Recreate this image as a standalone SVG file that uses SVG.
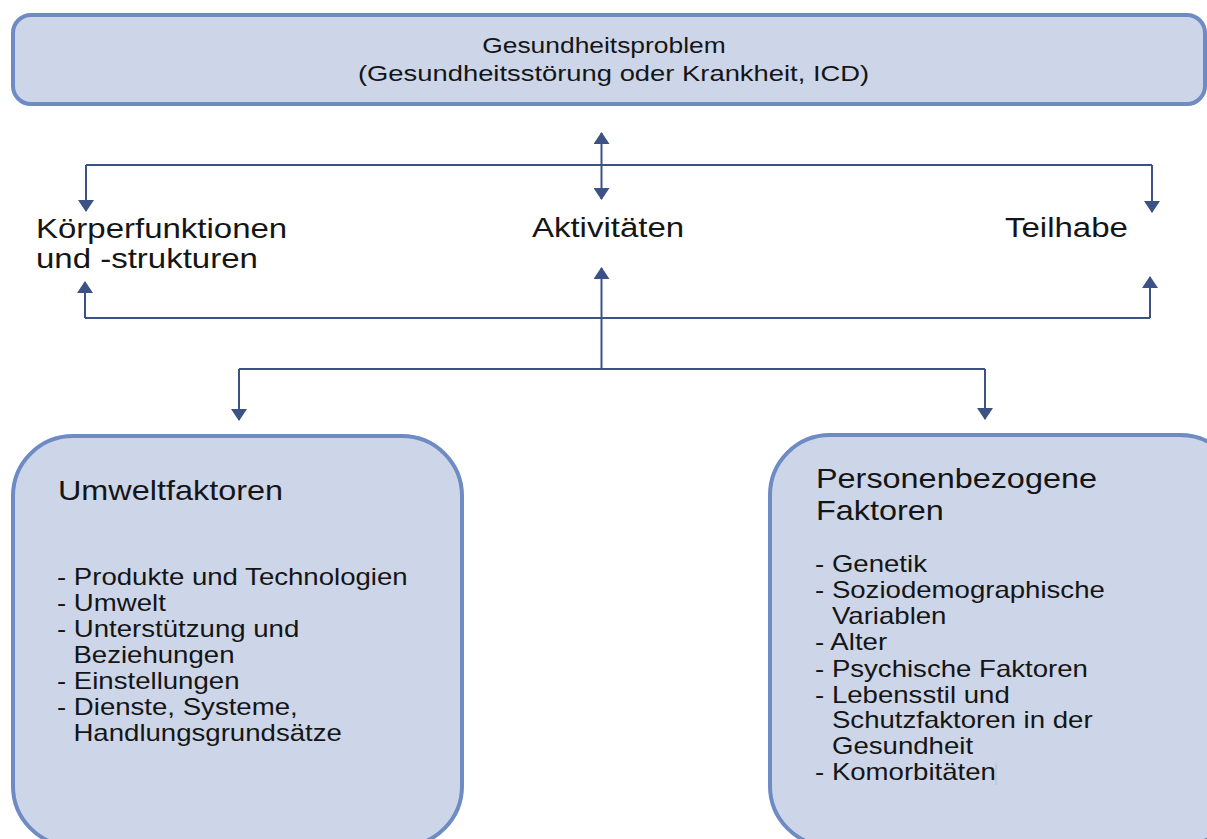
<svg xmlns="http://www.w3.org/2000/svg" width="1207" height="839" viewBox="0 0 1207 839">
  <style>
    .box { fill: #cdd6e9; stroke: #6f8bc4; stroke-width: 4; }
    .t { font-family: "Liberation Sans", Arial, sans-serif; fill: #151515; }
    .title { font-size: 22px; }
    .lbl { font-size: 27.5px; }
    .head { font-size: 27px; }
    .li { font-size: 23px; }
    .conn { fill: none; stroke: #3c5285; stroke-width: 2; }
  </style>
  <defs>
    <marker id="arr" viewBox="0 0 12 16" refX="11" refY="8" markerWidth="12" markerHeight="16" markerUnits="userSpaceOnUse" orient="auto">
      <path d="M0,0 L12,8 L0,16 z" fill="#3c5285"/>
    </marker>
  </defs>

  <g id="gesundheitsproblem">
    <rect class="box" x="13" y="15" width="1192" height="89" rx="18" ry="18"/>
    <text class="t title" transform="scale(1.2 1)" x="503.3" y="53" text-anchor="middle">Gesundheitsproblem</text>
    <text class="t title" transform="scale(1.2 1)" x="298.3" y="81" textLength="426" lengthAdjust="spacingAndGlyphs">(Gesundheitsstörung oder Krankheit, ICD)</text>
  </g>

  <g id="koerperfunktionen">
    <text class="t lbl" transform="scale(1.2 1)" x="30" y="238">Körperfunktionen</text>
    <text class="t lbl" transform="scale(1.2 1)" x="30" y="268">und -strukturen</text>
  </g>

  <g id="aktivitaeten">
    <text class="t lbl" transform="scale(1.2 1)" x="443.3" y="237">Aktivitäten</text>
  </g>

  <g id="teilhabe">
    <text class="t lbl" transform="scale(1.2 1)" x="837.5" y="237">Teilhabe</text>
  </g>

  <g id="umweltfaktoren">
    <rect class="box" x="13" y="436" width="449" height="410" rx="60" ry="60"/>
    <text class="t head" transform="scale(1.2 1)" x="48.3" y="500">Umweltfaktoren</text>
    <g class="t li" transform="scale(1.2 1)">
      <text x="47.5" y="585">- Produkte und Technologien</text>
      <text x="47.5" y="611">- Umwelt</text>
      <text x="47.5" y="637">- Unterstützung und</text>
      <text x="61.2" y="663">Beziehungen</text>
      <text x="47.5" y="689">- Einstellungen</text>
      <text x="47.5" y="715">- Dienste, Systeme,</text>
      <text x="61.2" y="741">Handlungsgrundsätze</text>
    </g>
  </g>

  <g id="personenbezogene-faktoren">
    <rect class="box" x="770" y="435" width="470" height="411" rx="60" ry="60"/>
    <text class="t head" transform="scale(1.2 1)" x="680" y="488">Personenbezogene</text>
    <text class="t head" transform="scale(1.2 1)" x="680" y="520">Faktoren</text>
    <g class="t li" transform="scale(1.2 1)">
      <text x="679.2" y="572">- Genetik</text>
      <text x="679.2" y="598">- Soziodemographische</text>
      <text x="693.3" y="624">Variablen</text>
      <text x="679.2" y="650">- Alter</text>
      <text x="679.2" y="677">- Psychische Faktoren</text>
      <text x="679.2" y="703">- Lebensstil und</text>
      <text x="693.3" y="728">Schutzfaktoren in der</text>
      <text x="693.3" y="754">Gesundheit</text>
      <text x="679.2" y="780">- Komorbitäten</text>
    </g>
    <line x1="996" y1="763" x2="996" y2="785" stroke="#b8bcc6" stroke-width="1"/>
  </g>

  <g id="connectors">
    <path class="conn" d="M86,165 L1152,165"/>
    <path class="conn" d="M86,165 L86,211" marker-end="url(#arr)"/>
    <path class="conn" d="M1152,165 L1152,212" marker-end="url(#arr)"/>
    <path class="conn" d="M601.5,166 L601.5,133" marker-end="url(#arr)"/>
    <path class="conn" d="M601.5,164 L601.5,199" marker-end="url(#arr)"/>
    <path class="conn" d="M85,318 L1150,318"/>
    <path class="conn" d="M85,318 L85,282" marker-end="url(#arr)"/>
    <path class="conn" d="M1150,318 L1150,277" marker-end="url(#arr)"/>
    <path class="conn" d="M601.5,370 L601.5,268" marker-end="url(#arr)"/>
    <path class="conn" d="M239,369 L985,369"/>
    <path class="conn" d="M239,369 L239,420" marker-end="url(#arr)"/>
    <path class="conn" d="M985,369 L985,419" marker-end="url(#arr)"/>
  </g>
</svg>
